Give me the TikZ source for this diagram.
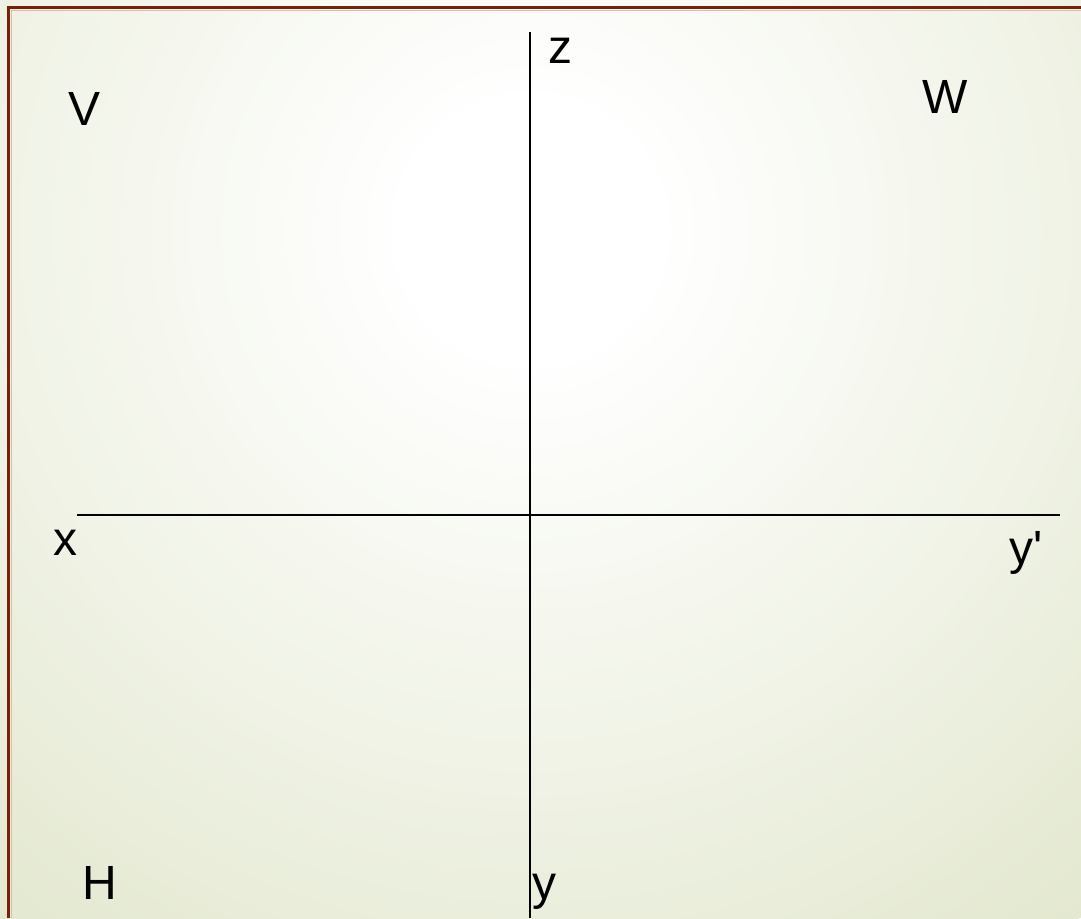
\documentclass[tikz,border=0pt]{standalone}
\usepackage{fontspec}
\setmainfont{Liberation Sans}
\definecolor{bgout}{HTML}{E3E8CF}
\definecolor{bgmid}{HTML}{F0F3E6}
\definecolor{frame}{HTML}{7A1F0A}
\definecolor{frameinner}{HTML}{D9BFA8}
\pgfdeclareradialshading{bgshade}{\pgfpoint{0bp}{0bp}}{color(0bp)=(white); color(3.5bp)=(white); color(15bp)=(bgmid); color(25bp)=(bgout); color(50bp)=(bgout)}
\begin{document}
\begin{tikzpicture}[x=1pt,y=-1pt,
  lbl/.style={inner sep=0pt,anchor=base west,font=\fontsize{48}{48}\selectfont},
  axis/.style={line width=2pt,black}]
\useasboundingbox (0,0) rectangle (1081,918);
\begin{scope}
  \clip (0,0) rectangle (1081,918);
  \fill[bgout] (0,0) rectangle (1081,918);
  \shade[shading=bgshade] (530,230) circle (880);
\end{scope}
% frame
\draw[frameinner,line width=1pt] (11,918) -- (11,10.5) -- (1081,10.5);
\draw[frame,line width=3pt] (8.5,918) -- (8.5,7.5) -- (1081,7.5);
% axes
\coordinate (xl) at (77,515);
\coordinate (xr) at (1060,515);
\coordinate (zt) at (530,32);
\coordinate (yb) at (530,918);
\draw[axis] (xl) -- (xr);
\draw[axis] (zt) -- (yb);
% labels
\node[lbl] (V) at (68,125) {V};
\node[lbl] (W) at (922,113) {W};
\node[lbl] (z) at (548,63) {z};
\node[lbl] (x) at (53,555) {x};
\node[lbl] (yp) at (1009,564) {y\textquotesingle};
\node[lbl] (y) at (532,899) {y};
\node[lbl] (H) at (82,899) {H};
\end{tikzpicture}
\end{document}
